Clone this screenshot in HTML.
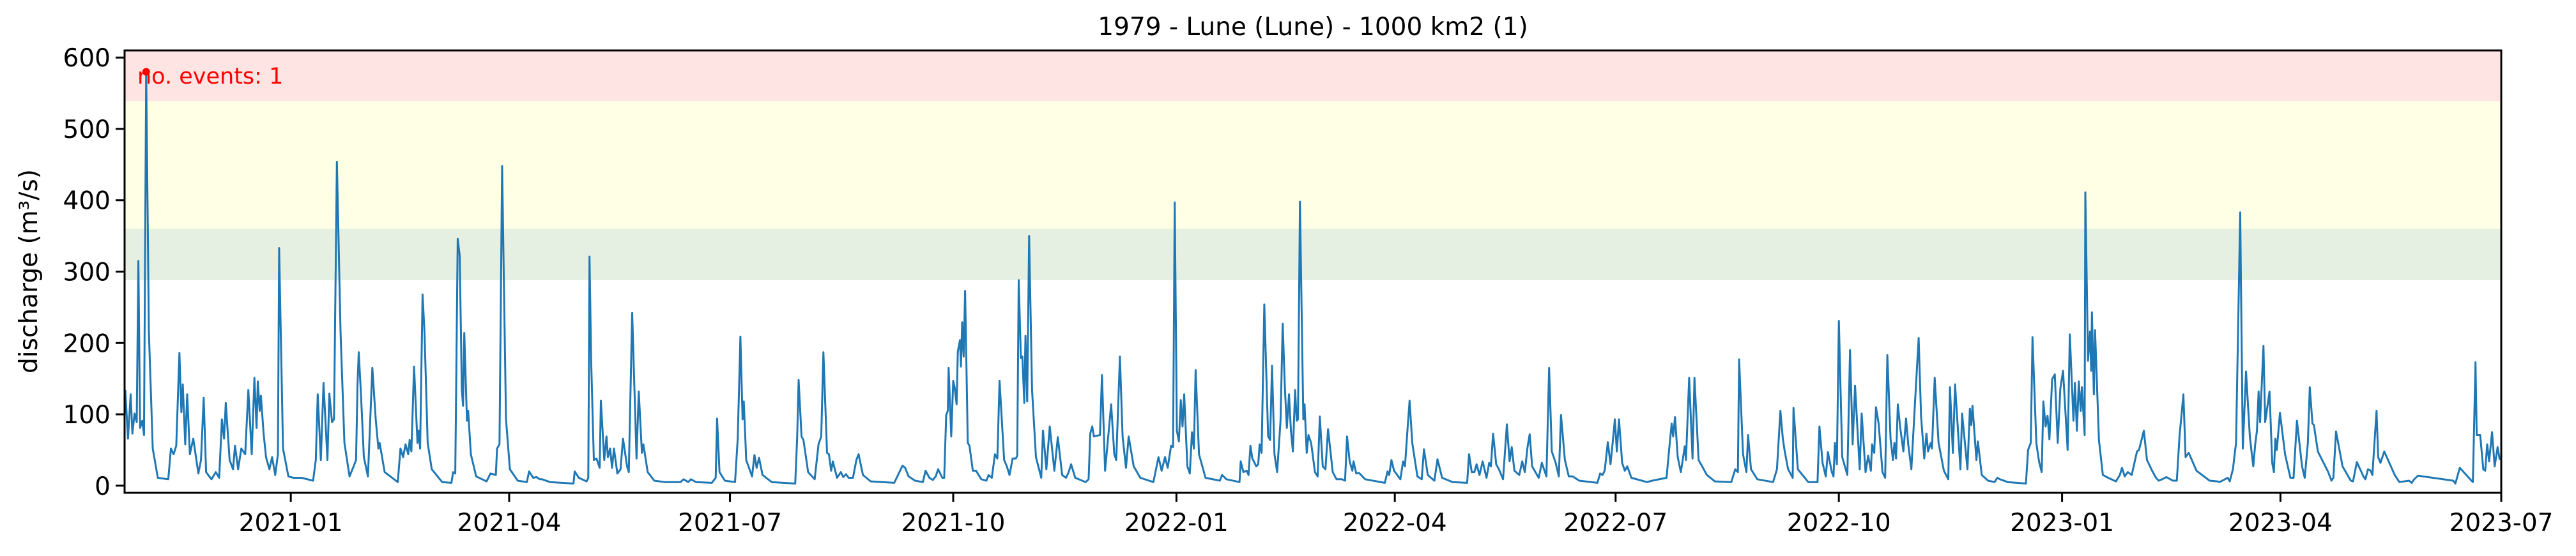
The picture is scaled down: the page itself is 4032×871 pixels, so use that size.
<!DOCTYPE html>
<html><head><meta charset="utf-8"><title>1979 - Lune discharge</title>
<style>
html,body{margin:0;padding:0;background:#fff;}
svg{display:block;font-family:"DejaVu Sans","Liberation Sans",sans-serif;}
</style></head>
<body>
<svg id="chart" xmlns="http://www.w3.org/2000/svg" width="4032" height="871" viewBox="0 0 4032 871">
<rect x="0" y="0" width="4032" height="871" fill="#ffffff"/>
<g id="bands"></g>
<g id="series"></g>
<rect x="195" y="79" width="3720" height="693" fill="none" stroke="#000" stroke-width="3"/>
<g id="yaxis"></g>
<g id="xaxis"></g>
<text x="2055" y="55" font-size="39" text-anchor="middle" fill="#000">1979 - Lune (Lune) - 1000 km2 (1)</text>
<text transform="translate(58,425) rotate(-90)" font-size="39" text-anchor="middle" fill="#000">discharge (m³/s)</text>
<text x="215" y="131" font-size="35" fill="#ff0000">no. events: 1</text>
</svg>
<script>
// ---- data ----
const axisStartUTC = Date.UTC(2020, 9, 24, 12);
const axisEndUTC = Date.UTC(2023, 6, 1);
const yMin = -10, yMax = 610;
const yTicks = [0, 100, 200, 300, 400, 500, 600];
const xTickLabels = ["2021-01","2021-04","2021-07","2021-10","2022-01","2022-04","2022-07","2022-10","2023-01","2023-04","2023-07"];
const bandLow = [288, 360, 539];
const bandHigh = [360, 539, 610];
const bandColors = ["#e5f0e3", "#ffffe5", "#ffe4e4"];
const eventDay = [8.9];
const eventValue = [580];
// days since axis start
const days = [0.3,1.4,2.5,3.2,4.1,5,5.7,6.4,7.3,8,8.9,10,11.6,13.7,18,19.1,20.2,21.3,22.6,23.4,24,25,25.8,26.9,28.3,30.4,31.5,32.6,33.6,35.8,37.6,39,40.1,41,41.7,43.3,44.7,45.5,46.8,48.1,49.7,51,52.4,53.5,54.4,54.9,55.7,56.2,57.3,58.3,59.7,60.8,62.1,63.2,63.7,65.3,67.5,69.6,72.9,77.7,78.8,79.6,80.9,82,83.6,84.4,85.5,86.3,87.5,89,90.6,92.7,94.4,95.4,96,96.5,97.4,98.6,100.3,102.1,103.5,104.6,105.1,107.2,112.6,113.7,114.8,115.8,116.9,117.5,118.2,119.3,120.7,121.2,121.8,122.8,123.6,124.9,126.6,130.9,134.7,135.4,136.3,137.3,138.1,139,139.5,140,141.1,141.6,142.7,144.9,149.2,150.8,153,153.5,154.5,155.6,157.2,158.8,162,
165.8,166.7,168.4,169.8,171.1,172.1,175.3,185,185.5,187.2,190.4,191.1,191.6,192.3,193.4,194.5,195.8,196.3,197.7,198.6,199.2,200.1,200.9,201.7,203.1,204.4,205.4,207.1,207.8,209.2,211,211.9,213.2,213.8,215.6,218.3,222.6,229.1,230.4,232.3,233.4,235.5,242,243.6,244.2,245.2,247.4,251.6,252.7,253.8,254.7,255.2,256.2,258.6,259.6,260.5,261.5,262.9,266.7,276.4,277.2,277.8,279,279.8,281.7,284.4,286,287.1,288,289.5,290.3,291.2,291.9,293.6,295.2,296.2,297.3,298.4,300.2,301.6,302.5,304.3,307.5,317.2,320.6,321.7,323.1,325.8,329,330.1,331.7,
333.1,334.3,335.3,337,337.8,338.6,339.3,339.6,340.7,341.5,342.1,342.9,343.4,344.3,344.7,345.2,345.8,346.4,347.5,348.2,349.6,350.9,353.1,355.2,356.1,357.4,358.7,359.7,360.6,362.5,363.6,364.7,366,367.3,367.9,368.5,369.4,370,370.8,371.3,372,372.8,374,375.6,377.8,378.5,379.9,381.3,383.2,384.6,386.4,388,389.1,390.1,391.8,396.1,397.3,398,398.8,399.5,402,402.8,404.1,406.6,407.9,408.7,410.2,411.3,412.7,413.8,415.9,418.6,424,426.1,427.4,428.8,429.9,431.3,432.1,432.8,433.7,434.5,435.3,436,436.7,438,439,439.9,440.7,441.4,442.8,445.5,451.4,452.3,454.1,459.5,460,461.1,462.5,463.2,464,464.8,465.7,466.4,467.2,467.8,468.6,469.7,471.3,472.1,472.9,473.9,475,476.4,477.3,478.2,479,479.9,480.7,481.5,482.4,483.1,483.6,484.4,485.8,486.3,487.2,487.9,489,490.6,491.7,492.6,493.8,494.9,496,
497.9,499.5,501.7,503,503.8,504.9,506,506.5,507.6,508.7,511.3,519.4,520.5,521.2,522.1,523.2,525.8,526.9,527.7,528.8,529.6,530.7,532.8,534.6,535.5,537.1,539.8,541.1,543,547.3,553.3,554.1,555.2,556.3,557.2,558.4,559.7,561.3,562.4,563.1,564,565.3,566.4,568.1,569.7,570.8,571.7,572.8,574.8,576,577.1,578.2,579.1,580.1,582.8,584.1,586,587.1,588.2,589.8,591.1,592,593.6,595.2,596.8,599.5,607,608.1,609.1,610,611.3,612.4,613.4,614.2,615,615.9,617.2,618.3,619.3,621,627.4,629.6,635.5,636.5,637.6,638.2,639,640.1,641.4,643,643.5,644.8,646.2,647,648.7,650.5,652.1,655.4,662.2,
663.8,664.9,665.4,667,668.4,669.1,670.3,672.9,679.4,681,682.4,683.4,684.2,685.6,687.5,687.8,689.6,693.9,697.7,698.5,699.8,701.1,702,703.6,704.3,704.9,705.7,706.5,707.9,710,711.1,712.2,713.2,715.1,715.9,717.5,718.6,719.7,720.2,721.1,721.8,722.9,724.5,725.6,726.5,727.8,728.8,729.4,730.1,730.8,731.8,733.1,734.2,735.1,736.4,738,739.4,740.4,741.7,742.6,743.3,744.4,744.9,746,747.6,749.8,751.6,752.3,753.5,754.4,756.6,757.3,759.5,760.5,761.1,761.6,763.2,763.8,765.4,768,770.7,771.8,772.9,776.1,783.6,784.5,785.6,786.3,787.9,789,790.1,790.8,791.7,792.5,793.3,794.4,795.5,796.7,797.8,798.9,800.8,801.7,803.2,803.8,804.6,805.4,806.2,806.7,807.8,808.1,809.2,810,810.5,810.8,811.6,812.1,813.7,815.3,817.5,820.7,822.3,823.2,824.3,825.6,827.2,
829.4,830.2,832.2,833.5,835.6,837.2,838.3,839.7,841.5,844.2,845.8,846.9,848.5,849.4,850.7,853.9,859.3,862.5,863.4,866.8,867.6,868.9,870.2,871.9,873,874.3,875.9,876.7,877.3,878.1,878.8,879.5,880.1,881.5,882.2,884,885.1,885.8,886.4,887,888.3,890.4,892.6,893.9,895.3,897.4,898.5,899.8,900.6,901.7,902.3,903.9,908.2,909.5,910.3,911.4,914.1,917.5,918.4,920,922.7,923.5,924.6,925.7,926.4,928.1,928.8,929.7,931.3,935.6,937.5,941.5,942.6,943.6,945.2,959.7,960.6,962.4,966.7,967.8,968.9,969.4,970.8,972.1,972.9,973.7,974.5,975.7,976.8,978,978.9];
const discharge = [134,66,128,73,101,89,315,81,91,71,580,216,52,11,9,52,44,56,186,103,142,58,128,44,66,17,36,123,19,9,19,11,93,66,116,36,23,56,23,52,44,134,44,151,81,146,105,126,73,40,23,40,15,44,333,52,13,11,11,7,36,128,36,144,36,129,89,93,454,216,60,13,27,36,142,187,130,40,13,165,93,52,60,19,5,52,40,58,44,64,48,167,60,77,52,268,216,60,23,5,4,19,17,346,323,134,112,214,91,105,44,13,6,17,15,52,58,448,93,23,7,
5,20,11,12,9,9,5,3,20,11,6,11,321,175,36,38,25,119,36,69,40,52,25,52,17,23,66,27,19,242,38,132,46,58,19,7,5,5,9,5,9,5,4,11,94,19,7,5,66,209,93,118,36,13,43,25,39,15,5,3,69,148,69,64,19,9,58,69,187,46,44,21,34,11,19,12,16,11,11,36,44,15,6,4,28,25,13,7,5,21,11,
8,13,23,11,11,99,105,165,69,147,138,114,188,204,167,229,181,273,60,56,21,21,9,7,15,11,44,38,147,36,27,15,38,38,42,288,179,181,116,210,118,350,134,40,11,77,23,83,21,68,15,11,19,30,11,5,9,73,83,69,71,155,21,114,44,36,181,69,25,69,27,11,5,40,21,40,25,56,54,397,77,62,120,83,128,27,17,75,52,162,44,11,7,15,9,5,34,19,21,15,56,38,32,27,30,58,46,254,69,64,168,44,19,91,227,138,81,128,77,48,134,91,93,398,93,114,46,71,60,19,13,97,27,23,79,
19,9,9,7,69,34,21,34,17,18,9,4,20,15,36,21,9,34,27,82,119,60,13,9,51,15,7,37,11,5,4,44,19,19,30,15,34,11,32,27,73,30,23,9,86,34,54,21,15,34,19,54,72,27,11,32,13,165,48,32,13,99,36,13,13,7,4,17,15,21,61,30,64,93,48,93,32,21,27,11,5,7,11,48,87,69,96,40,19,55,36,151,38,151,36,25,15,6,5,
23,19,177,44,19,71,23,9,5,23,105,66,48,23,11,109,23,5,5,83,32,13,47,19,13,60,30,231,40,15,190,58,140,23,101,19,42,21,58,46,110,87,19,11,183,66,36,60,38,114,81,48,94,58,23,123,207,97,38,73,48,60,52,151,60,21,9,138,46,142,23,101,23,108,85,112,36,62,15,7,5,11,9,5,3,50,60,208,60,34,19,118,83,98,65,149,156,60,136,161,50,212,91,144,77,146,105,138,71,411,175,216,161,243,128,218,64,15,11,6,15,25,13,19,15,48,
50,77,36,21,11,7,9,12,7,7,69,128,40,46,21,7,6,5,11,6,23,60,383,52,160,69,44,27,58,77,132,89,196,89,132,32,19,66,50,102,44,11,11,91,27,11,60,138,87,85,48,19,7,11,76,27,7,6,33,13,9,23,21,15,105,40,32,48,15,5,7,4,9,14,7,3,25,9,5,173,71,71,23,21,58,34,75,27,54,36,19];

// ---- scales ----
const PL = 195, PR = 3915, PT = 79, PB = 772;
const totalDays = (axisEndUTC - axisStartUTC) / 86400000;
function xScale(d){ return PL + (d / totalDays) * (PR - PL); }
function yScale(v){ return PB - (v - yMin) / (yMax - yMin) * (PB - PT); }
function dayOfLabel(lbl){ const p = lbl.split('-'); return (Date.UTC(+p[0], +p[1]-1, 1) - axisStartUTC) / 86400000; }

const NS = "http://www.w3.org/2000/svg";
function mk(tag, attrs){ const e = document.createElementNS(NS, tag); for (const k in attrs) e.setAttribute(k, attrs[k]); return e; }

// bands
const bandsG = document.getElementById('bands');
for (let i = 0; i < bandLow.length; i++) {
  const yTop = yScale(Math.min(bandHigh[i], yMax)), yBot = yScale(bandLow[i]);
  const r = mk('rect', {x: PL, y: yTop, width: PR - PL, height: yBot - yTop, fill: bandColors[i]});
  
  
  bandsG.appendChild(r);
}

// series line
const seriesG = document.getElementById('series');
let pts = [];
for (let i = 0; i < days.length; i++) pts.push(xScale(days[i]).toFixed(1) + ',' + yScale(discharge[i]).toFixed(1));
const line = mk('polyline', {points: pts.join(' '), fill: 'none', stroke: '#1f77b4', 'stroke-width': 3, 'stroke-linejoin': 'round'});


seriesG.appendChild(line);
for (let i = 0; i < eventDay.length; i++) {
  const c = mk('circle', {cx: xScale(eventDay[i]), cy: yScale(eventValue[i]), r: 6, fill: '#ff0000'});
  
  
  seriesG.appendChild(c);
}

// y axis
const yG = document.getElementById('yaxis');
yTicks.forEach(v => {
  const y = yScale(v);
  const t = mk('line', {x1: PL - 14, x2: PL, y1: y, y2: y, stroke: '#000', 'stroke-width': 3});
  
  
  yG.appendChild(t);
  const lb = mk('text', {x: PL - 22, y: y + 14, 'font-size': 39, 'text-anchor': 'end', fill: '#000'});
  lb.textContent = String(v);
  
  
  yG.appendChild(lb);
});

// x axis
const xG = document.getElementById('xaxis');
xTickLabels.forEach(lbl => {
  const x = xScale(dayOfLabel(lbl));
  const t = mk('line', {x1: x, x2: x, y1: PB, y2: PB + 14, stroke: '#000', 'stroke-width': 3});
  
  
  xG.appendChild(t);
  const lb = mk('text', {x: x, y: 832, 'font-size': 39, 'text-anchor': 'middle', fill: '#000'});
  lb.textContent = lbl;
  
  
  xG.appendChild(lb);
});
</script>
</body></html>
